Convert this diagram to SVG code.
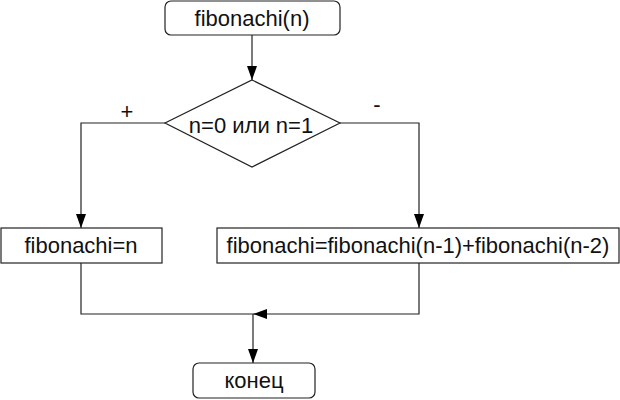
<svg xmlns="http://www.w3.org/2000/svg" width="620" height="400" viewBox="0 0 620 400">
<style>
.box{fill:#fff;stroke:#222;stroke-width:1.2}
.t{font-family:"Liberation Sans",Arial,sans-serif;font-size:22px;fill:#111;text-anchor:middle}
.ln{fill:none;stroke:#222;stroke-width:1.2}
</style>
<defs>
<marker id="ar" viewBox="0 0 14 10" refX="14" refY="5" markerWidth="14" markerHeight="10" markerUnits="userSpaceOnUse" orient="auto">
<path d="M0,0 L14,5 L0,10 Z" fill="#000"/>
</marker>
</defs>
<rect width="620" height="400" fill="#fff"/>
<g id="connectors">
<line class="ln" x1="252" y1="35" x2="252" y2="80" marker-end="url(#ar)"/>
<polyline class="ln" points="165,123 81,123 81,228" marker-end="url(#ar)"/>
<polyline class="ln" points="340,123 419,123 419,228" marker-end="url(#ar)"/>
<polyline class="ln" points="81,263 81,314 253,314"/>
<polyline class="ln" points="419,263 419,314 253,314" marker-end="url(#ar)"/>
<line class="ln" x1="253" y1="314" x2="253" y2="363" marker-end="url(#ar)"/>
<text class="t" x="127" y="119">+</text>
<text class="t" x="377" y="112">-</text>
</g>
<g id="start">
<rect class="box" x="165" y="1" width="175" height="34" rx="6"/>
<text class="t" x="252" y="26">fibonachi(n)</text>
</g>
<g id="decision">
<polygon class="box" points="252,80 340,123 252,167 165,123"/>
<text class="t" x="251" y="133">n=0 или n=1</text>
</g>
<g id="left">
<rect class="box" x="1" y="228" width="161" height="35"/>
<text class="t" x="81" y="253">fibonachi=n</text>
</g>
<g id="right">
<rect class="box" x="217" y="228" width="402" height="35"/>
<text class="t" x="418" y="253">fibonachi=fibonachi(n-1)+fibonachi(n-2)</text>
</g>
<g id="end">
<rect class="box" x="193" y="363" width="122" height="35" rx="6"/>
<text class="t" x="254" y="388">конец</text>
</g>
</svg>
